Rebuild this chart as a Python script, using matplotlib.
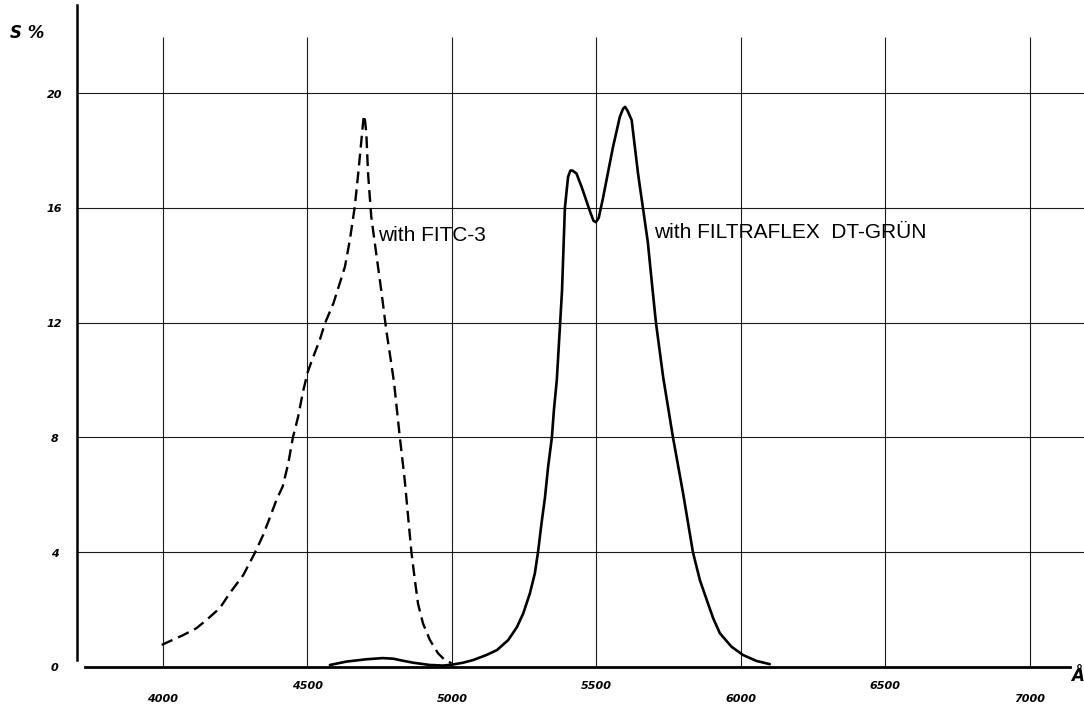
import numpy as np
import matplotlib.pyplot as plt

# ---- data ----
# wavelength (Å) and S (%)
fitc_wl = [3996, 4070, 4116, 4151, 4197, 4232, 4278, 4318, 4347, 4370, 4393,
           4415, 4434, 4450, 4468, 4485, 4502, 4520, 4543, 4561, 4590, 4612,
           4630, 4647, 4664, 4676, 4687, 4693, 4696, 4700, 4704, 4710, 4721,
           4737, 4756, 4773, 4790, 4800, 4820, 4837, 4860, 4872, 4883, 4900,
           4924, 4952, 4976, 4999]
fitc_s = [0.77, 1.11, 1.35, 1.64, 2.05, 2.58, 3.2, 3.97, 4.6, 5.2, 5.82,
          6.3, 7.1, 8.0, 8.72, 9.6, 10.3, 10.8, 11.4, 11.98, 12.67, 13.37,
          13.95, 14.88, 16.04, 17.2, 18.36, 19.0, 19.23, 19.0, 18.6, 17.2, 15.7,
          14.5, 13.1, 11.74, 10.6, 9.9, 8.0, 6.5, 4.0, 3.03, 2.2, 1.52,
          0.94, 0.48, 0.24, 0.13]

grun_wl = [4578, 4636, 4705, 4760, 4797, 4820, 4866, 4924, 4970, 5000, 5039,
           5073, 5120, 5156, 5195, 5225, 5247, 5270, 5287, 5298, 5310, 5322,
           5333, 5346, 5353, 5363, 5381, 5391, 5402, 5410, 5417, 5431, 5450,
           5477, 5490, 5498, 5508, 5522, 5557, 5581, 5592, 5599, 5607, 5622,
           5644, 5661, 5678, 5691, 5706, 5731, 5765, 5800, 5834, 5858, 5882,
           5904, 5927, 5967, 6007, 6054, 6100]
grun_s = [0.07, 0.19, 0.27, 0.31, 0.29, 0.24, 0.15, 0.07, 0.05, 0.08, 0.15,
          0.24, 0.42, 0.59, 0.94, 1.39, 1.87, 2.57, 3.26, 4.0, 5.0, 5.9,
          6.98, 8.0, 8.95, 10.0, 13.1, 16.0, 17.08, 17.3, 17.3, 17.2, 16.7,
          15.9, 15.55, 15.5, 15.65, 16.3, 18.1, 19.17, 19.45, 19.52, 19.4, 19.06,
          17.2, 16.0, 14.8, 13.48, 12.0, 10.1, 8.0, 6.05, 4.0, 3.03, 2.33,
          1.7, 1.18, 0.71, 0.42, 0.21, 0.1]

x_ticks = [4000, 4500, 5000, 5500, 6000, 6500, 7000]
x_labels = ["4000", "4500", "5000", "5500", "6000", "6500", "7000"]
y_ticks = [0, 4, 8, 12, 16, 20]
y_labels = ["0", "4", "8", "12", "16", "20"]

label_fitc = "with FITC-3"
label_grun = "with FILTRAFLEX  DT-GRÜN"

# ---- figure ----
W, H = 1084, 708
fig = plt.figure(figsize=(W / 100, H / 100), dpi=100)
ax = fig.add_axes([77 / W, (H - 667) / H, (W - 77) / W, (667 - 5) / H])
ax.set_xlim(3703, 7187)
ax.set_ylim(0, 23.07)
ax.set_xticks([])
ax.set_yticks([])
for s in ["top", "right"]:
    ax.spines[s].set_visible(False)
ax.spines["left"].set_bounds(0.25, 23.07)
ax.spines["left"].set_linewidth(1.8)
ax.spines["bottom"].set_bounds(3730, 7138)
ax.spines["bottom"].set_linewidth(2.0)

grid_col = "#1a1a1a"
ax.vlines(x_ticks, 0, 21.95, color=grid_col, lw=0.8, zorder=1)
ax.hlines(y_ticks[1:], 3703, 7187, color=grid_col, lw=0.8, zorder=1)

ax.plot(fitc_wl, fitc_s, color="black", lw=1.7, linestyle=(0, (5, 2.6)),
        zorder=3)
ax.plot(grun_wl, grun_s, color="black", lw=1.9, zorder=3,
        solid_capstyle="round", solid_joinstyle="round")

tick_font = dict(family="DejaVu Sans", weight="bold", style="italic",
                 fontsize=8)
for i, (xv, lab) in enumerate(zip(x_ticks, x_labels)):
    yv = -1.1 if i % 2 == 0 else -0.65
    ax.text(xv, yv, lab, ha="center", va="center", clip_on=False, **tick_font)

for yv, lab in zip(y_ticks, y_labels):
    ax.text(3626, yv - 0.05, lab, ha="center", va="center", clip_on=False,
            **tick_font)

ax.text(3529, 22.1, "S %", ha="center", va="center", clip_on=False,
        family="DejaVu Sans", weight="bold", style="italic", fontsize=12)
ax.text(7166, -0.3, "Å", ha="center", va="center", clip_on=False,
        family="DejaVu Sans", weight="bold", style="italic", fontsize=12)

ann_font = dict(family="Liberation Sans", fontsize=15)
ax.text(4744, 15.05, label_fitc, ha="left", va="center", **ann_font)
ax.text(5700, 15.15, label_grun, ha="left", va="center", **ann_font)

fig.savefig("out.png", dpi=100)
